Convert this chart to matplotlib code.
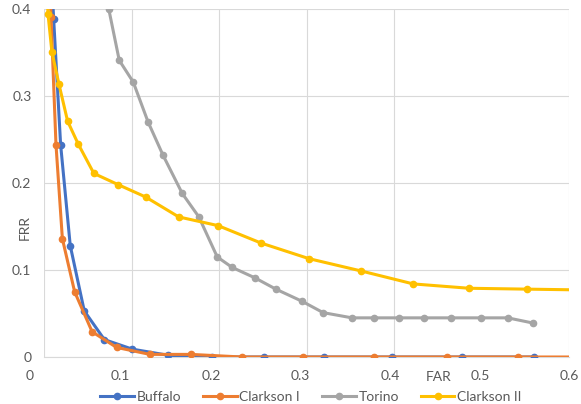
import matplotlib.pyplot as plt
import matplotlib.transforms as mtransforms

# data (FAR, FRR)
buffalo_far = [0.008, 0.011, 0.019, 0.030, 0.046, 0.069, 0.101, 0.142, 0.192, 0.251, 0.320, 0.398, 0.478, 0.560]
buffalo_frr = [0.45, 0.389, 0.244, 0.128, 0.053, 0.020, 0.009, 0.002, 0.0, 0.0, 0.0, 0.0, 0.0, 0.0]

clarkson1_far = [0.006, 0.008, 0.0137, 0.021, 0.035, 0.055, 0.083, 0.121, 0.168, 0.226, 0.296, 0.377, 0.461, 0.542, 0.62]
clarkson1_frr = [0.45, 0.391, 0.244, 0.136, 0.075, 0.029, 0.011, 0.003, 0.003, 0.0, 0.0, 0.0, 0.0, 0.0, 0.0]

torino_far = [0.074, 0.086, 0.102, 0.119, 0.136, 0.158, 0.177, 0.198, 0.215, 0.241, 0.265,
              0.295, 0.319, 0.352, 0.377, 0.406, 0.434, 0.465, 0.499, 0.530, 0.559]
torino_frr = [0.400, 0.341, 0.316, 0.270, 0.232, 0.188, 0.161, 0.115, 0.103, 0.091, 0.078,
              0.064, 0.051, 0.045, 0.045, 0.045, 0.045, 0.045, 0.045, 0.045, 0.039]

clarkson2_far = [0.002, 0.0046, 0.009, 0.017, 0.027, 0.039, 0.057, 0.085, 0.116, 0.154, 0.199,
                 0.248, 0.303, 0.362, 0.422, 0.486, 0.552, 0.62]
clarkson2_frr = [0.45, 0.394, 0.351, 0.314, 0.271, 0.245, 0.211, 0.198, 0.184, 0.161, 0.151,
                 0.131, 0.113, 0.099, 0.084, 0.079, 0.078, 0.077]

x_ticks = [0, 0.1, 0.2, 0.3, 0.4, 0.5, 0.6]
y_ticks = [0, 0.1, 0.2, 0.3, 0.4]
x_labels = ['0', '0.1', '0.2', '0.3', '0.4', '0.5', '0.6']
y_labels = ['0', '0.1', '0.2', '0.3', '0.4']

plt.rcParams['font.family'] = ['Lato', 'DejaVu Sans']
text_color = '#595959'
grid_color = '#D9D9D9'

fig = plt.figure(figsize=(5.81, 4.04), dpi=100)
ax = fig.add_axes([44 / 581, 1 - 357 / 404, 525 / 581, 348 / 404])

series = [
    (buffalo_far, buffalo_frr, '#4472C4', 'Buffalo'),
    (clarkson1_far, clarkson1_frr, '#ED7D31', 'Clarkson I'),
    (torino_far, torino_frr, '#A5A5A5', 'Torino'),
    (clarkson2_far, clarkson2_frr, '#FFC000', 'Clarkson II'),
]
for far, frr, color, name in series:
    ax.plot(far, frr, color=color, lw=2.2, marker='o', ms=4.5, label=name, zorder=3)

ax.set_xlim(0, 0.6)
ax.set_ylim(0, 0.4)
ax.set_xticks(x_ticks)
ax.set_xticklabels(x_labels)
ax.set_yticks(y_ticks)
ax.set_yticklabels(y_labels)
ax.grid(True, color=grid_color, lw=0.8)
ax.set_axisbelow(True)
# the 0.5 gridline is not visible in the reference
ax.get_xgridlines()[5].set_visible(False)
for side in ['top', 'right', 'left']:
    ax.spines[side].set_visible(False)
ax.spines['bottom'].set_color(grid_color)
ax.tick_params(length=0, colors=text_color, labelsize=10)
ax.tick_params(axis='x', pad=9)
ax.tick_params(axis='y', pad=9)

# x labels in the reference drift slightly left of their gridlines
x_shift = [-14, -11, -8, -6, -4, -1, 0]
for dx, lab in zip(x_shift, ax.get_xticklabels()):
    lab.set_transform(lab.get_transform() + mtransforms.ScaledTranslation(dx / 100, 0, fig.dpi_scale_trans))

fig.text(439 / 581, 1 - 377 / 404, 'FAR', ha='center', va='center', fontsize=10, color=text_color)
fig.text(25 / 581, 1 - 228 / 404, 'FRR', ha='center', va='center', fontsize=10,
         color=text_color, rotation=90)

fig.legend(loc='center', bbox_to_anchor=(311 / 581, 1 - 397 / 404), ncol=4, frameon=False,
           fontsize=10, handlelength=2.4, columnspacing=1.6, handletextpad=0.2,
           labelcolor=text_color)

fig.savefig('out.png', dpi=100)
